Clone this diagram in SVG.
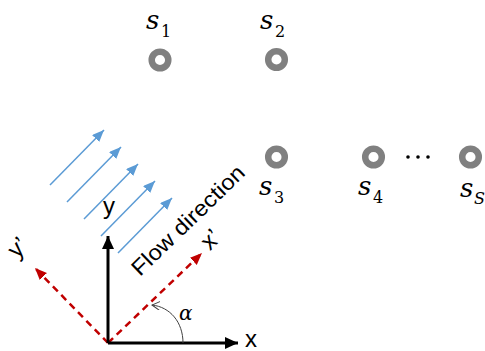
<svg xmlns="http://www.w3.org/2000/svg" width="485" height="351" viewBox="0 0 485 351">
<defs>
<style>
.ring{fill:none;stroke:#808080;stroke-width:6.5}
.lbl{font-family:"DejaVu Serif",serif;font-style:italic;font-size:26px;fill:#000}
.sub{font-family:"DejaVu Serif",serif;font-size:16px;fill:#000}
.flow{stroke:#5B9BD5;stroke-width:1.5;fill:none;marker-end:url(#mb)}
.axis{stroke:#000;stroke-width:3;fill:none;marker-end:url(#mk)}
.rot{stroke:#C00000;stroke-width:2.5;stroke-dasharray:7,5;fill:none;marker-end:url(#mr)}
.sans{font-family:"Liberation Sans",Arial,sans-serif;fill:#000}
</style>
<marker id="mb" markerUnits="userSpaceOnUse" markerWidth="13" markerHeight="11" refX="12" refY="5" orient="auto"><path d="M0,0 L12,5 L0,10 z" fill="#5B9BD5"/></marker>
<marker id="mk" markerUnits="userSpaceOnUse" markerWidth="14" markerHeight="12" refX="13" refY="6" orient="auto"><path d="M0,0 L13,6 L0,12 z" fill="#000"/></marker>
<marker id="mr" markerUnits="userSpaceOnUse" markerWidth="13" markerHeight="11" refX="12" refY="5" orient="auto"><path d="M0,0 L12,5 L0,10 z" fill="#C00000"/></marker>
<marker id="ma" markerUnits="userSpaceOnUse" markerWidth="10" markerHeight="10" refX="8" refY="4.5" orient="auto"><path d="M0,0 L8,4.5 L0,9" fill="none" stroke="#404040" stroke-width="1"/></marker>
</defs>
<g id="s1"><circle class="ring" cx="160" cy="60" r="8.3"/><text class="lbl" x="146" y="29">s</text><text class="sub" x="161" y="37">1</text></g>
<g id="s2"><circle class="ring" cx="276.5" cy="59.5" r="8.3"/><text class="lbl" x="260" y="29">s</text><text class="sub" x="275" y="37">2</text></g>
<g id="s3"><circle class="ring" cx="276.5" cy="157" r="8.3"/><text class="lbl" x="259" y="195">s</text><text class="sub" x="274" y="203">3</text></g>
<g id="s4"><circle class="ring" cx="373.5" cy="157" r="8.3"/><text class="lbl" x="358" y="195">s</text><text class="sub" x="373" y="203">4</text></g>
<g id="sS"><circle class="ring" cx="470.5" cy="157" r="8.3"/><text class="lbl" x="460" y="197">s</text><text class="lbl" x="474" y="204" style="font-size:16px">S</text></g>
<g id="dots" fill="#000"><circle cx="408" cy="157" r="1.8"/><circle cx="418" cy="157" r="1.8"/><circle cx="428" cy="157" r="1.8"/></g>
<g id="connectors">
<line class="flow" x1="50" y1="185" x2="104" y2="130"/>
<line class="flow" x1="67" y1="202" x2="121" y2="147"/>
<line class="flow" x1="84" y1="219" x2="138" y2="164"/>
<line class="flow" x1="101" y1="236" x2="155" y2="181"/>
<line class="flow" x1="118" y1="253" x2="172" y2="198"/>
<line class="rot" x1="108" y1="343" x2="202" y2="253"/>
<line class="rot" x1="108" y1="343" x2="35" y2="268"/>
<line class="axis" x1="108" y1="343" x2="238" y2="343"/>
<line class="axis" x1="108" y1="343" x2="108" y2="236"/>
<path d="M183,343 C183,322 170,307 152,305" fill="none" stroke="#404040" stroke-width="1" marker-end="url(#ma)"/>
</g>
<text class="sans" font-size="22" transform="translate(140,277) rotate(-44)" textLength="148" lengthAdjust="spacingAndGlyphs">Flow direction</text>
<text class="sans" font-size="24" x="109" y="214" text-anchor="middle">y</text>
<text class="sans" font-size="24" x="251" y="347" text-anchor="middle">x</text>
<text class="sans" font-size="24" transform="translate(211,240) rotate(-45)" text-anchor="middle" dy="0.3em">x’</text>
<text class="sans" font-size="24" transform="translate(18,248) rotate(-45)" text-anchor="middle" dy="0.3em">y’</text>
<text class="lbl" x="179" y="320" style="font-size:20px">α</text>
</svg>
